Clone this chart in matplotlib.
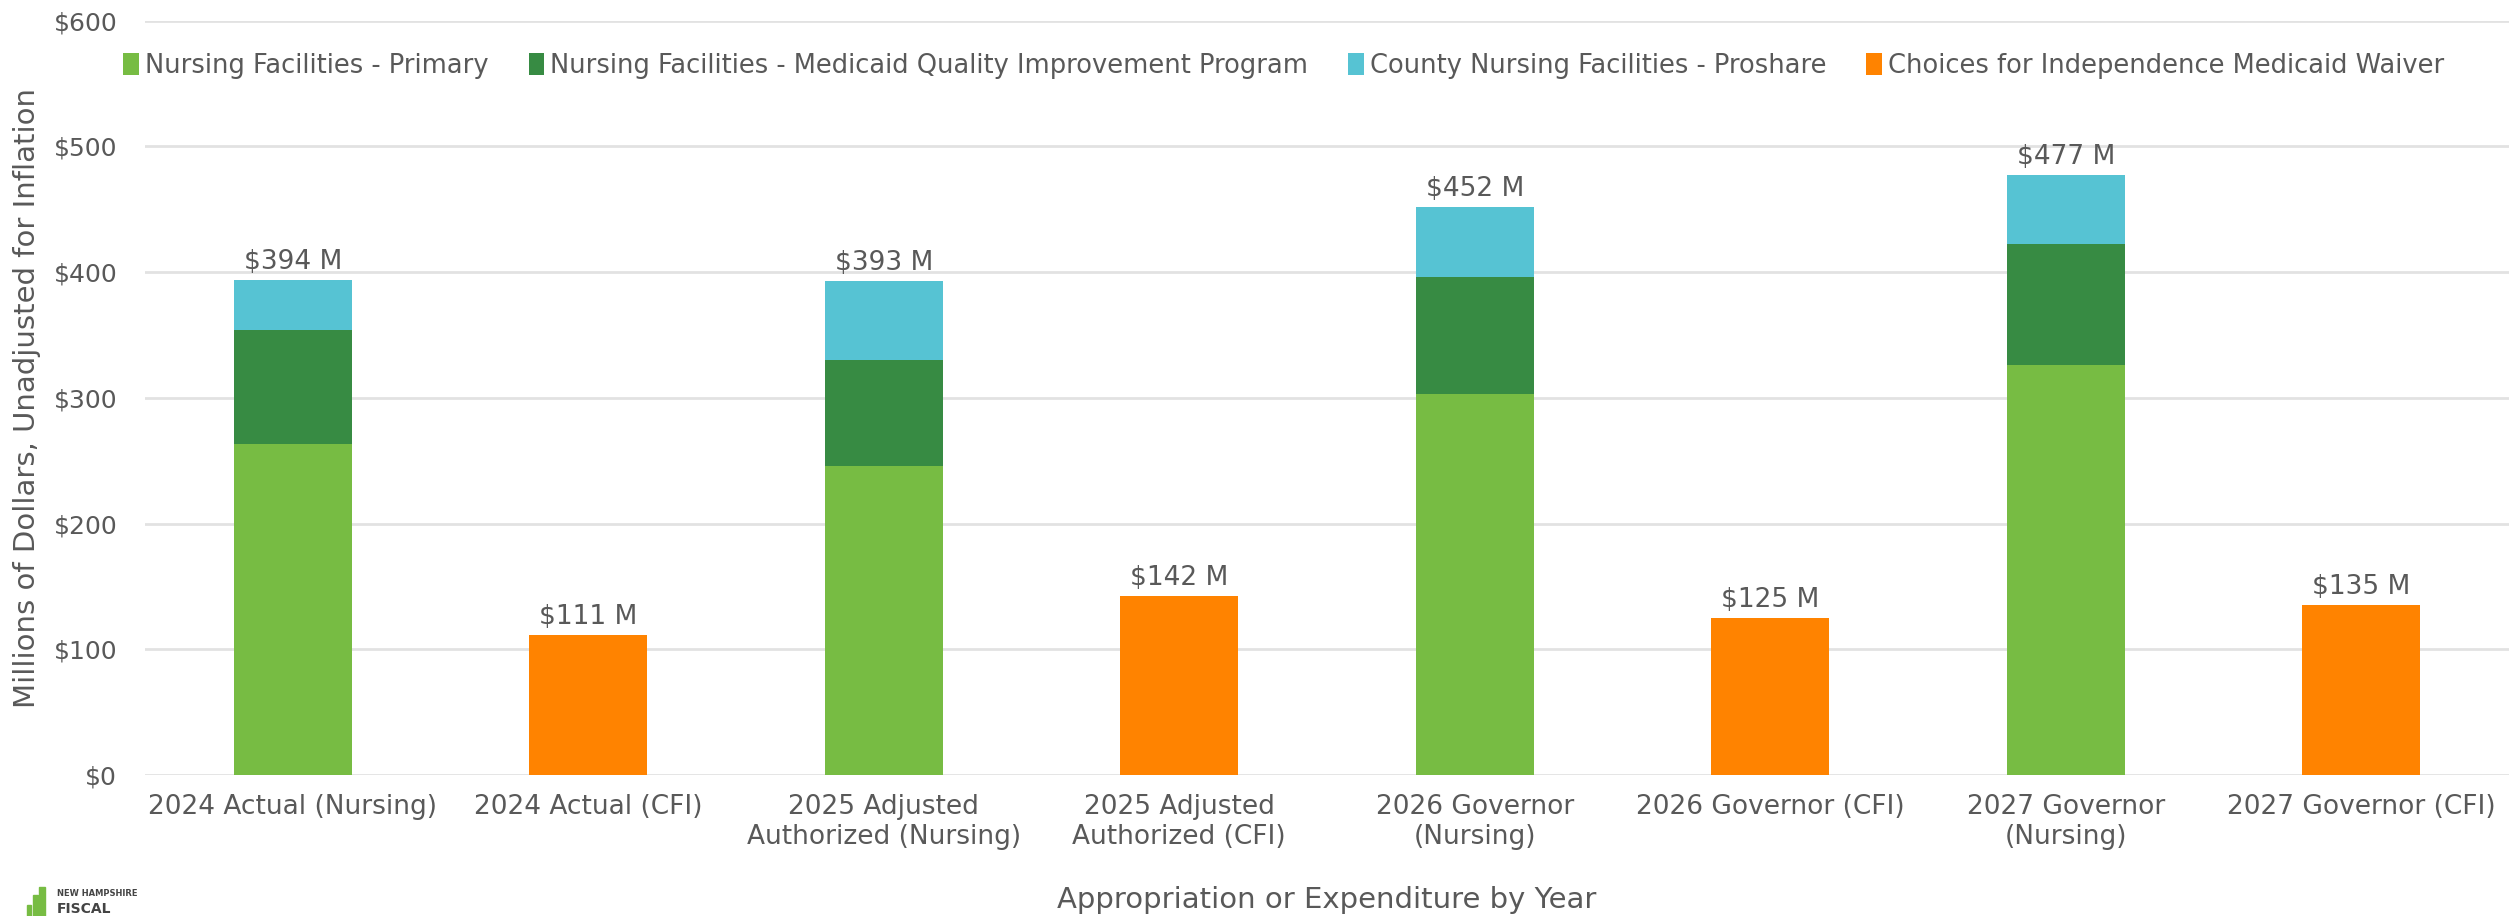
import numpy as np
import matplotlib.pyplot as plt
from matplotlib.patches import Rectangle

categories = ["2024 Actual (Nursing)", "2024 Actual (CFI)",
              "2025 Adjusted\nAuthorized (Nursing)", "2025 Adjusted\nAuthorized (CFI)",
              "2026 Governor\n(Nursing)", "2026 Governor (CFI)",
              "2027 Governor\n(Nursing)", "2027 Governor (CFI)"]

# millions of dollars (0 where the series has no bar)
nf_primary = [263, 0, 246, 0, 303, 0, 326, 0]
nf_mqip = [91, 0, 84, 0, 93, 0, 96, 0]
county_proshare = [40, 0, 63, 0, 56, 0, 55, 0]
cfi_waiver = [0, 111, 0, 142, 0, 125, 0, 135]
totals = [394, 111, 393, 142, 452, 125, 477, 135]

series_names = ["Nursing Facilities - Primary",
                "Nursing Facilities - Medicaid Quality Improvement Program",
                "County Nursing Facilities - Proshare",
                "Choices for Independence Medicaid Waiver"]
colors = ["#77BC43", "#378B43", "#56C3D3", "#FF8300"]
text_c = "#595959"

plt.rcParams['font.family'] = ['DejaVu Sans']

fig = plt.figure(figsize=(25.09, 9.16), dpi=100)
ax = fig.add_axes([0.0578, 0.154, 0.9422, 0.8234])

x = np.arange(len(categories))
w = 0.4
bottom = np.zeros(len(categories))
for vals, name, c in zip([nf_primary, nf_mqip, county_proshare, cfi_waiver], series_names, colors):
    vals = np.array(vals, dtype=float)
    ax.bar(x, vals, w, bottom=bottom, color=c, label=name, zorder=3)
    bottom += vals

for xi, t in zip(x, totals):
    ax.text(xi, t + 4, f"${t} M", ha='center', va='bottom', fontsize=19, color=text_c)

ax.set_ylim(0, 600)
ax.set_xlim(-0.5, len(categories) - 0.5)
ax.set_yticks(np.arange(0, 601, 100))
ax.set_yticklabels([f"${v}" for v in range(0, 601, 100)])
ax.set_xticks(x)
ax.set_xticklabels(categories)
ax.tick_params(axis='both', length=0, colors=text_c)
ax.tick_params(axis='y', pad=20, labelsize=18)
ax.tick_params(axis='x', pad=14, labelsize=19)
ax.grid(axis='y', color='#E2E2E2', linewidth=2, zorder=0)
for s in ax.spines.values():
    s.set_visible(False)

ax.set_ylabel("Millions of Dollars, Unadjusted for Inflation", fontsize=21, color=text_c, labelpad=9)
ax.set_xlabel("Appropriation or Expenditure by Year", fontsize=21, color=text_c, labelpad=26)

ax.legend(loc='center left', bbox_to_anchor=(0.044, 0.928), bbox_transform=fig.transFigure,
          ncol=4, frameon=False, fontsize=18.5, handlelength=0.6, handleheight=0.9,
          handletextpad=0.25, columnspacing=1.55, labelcolor=text_c, borderpad=0)

# logo, bottom left
W, H = fig.get_size_inches() * fig.dpi
for x0, x1, y0 in [(27, 31, 905), (33, 38, 895), (39, 45, 887)]:
    fig.patches.append(Rectangle((x0 / W, 1 - 916 / H), (x1 - x0) / W, (916 - y0) / H,
                                 transform=fig.transFigure, color='#77BC43'))
fig.text(57 / W, 1 - 894 / H, "NEW HAMPSHIRE", fontsize=6, fontweight='bold', color='#444444', va='center')
fig.text(57 / W, 1 - 909 / H, "FISCAL", fontsize=10, fontweight='bold', color='#444444', va='center')

fig.savefig("out.png", dpi=100)
